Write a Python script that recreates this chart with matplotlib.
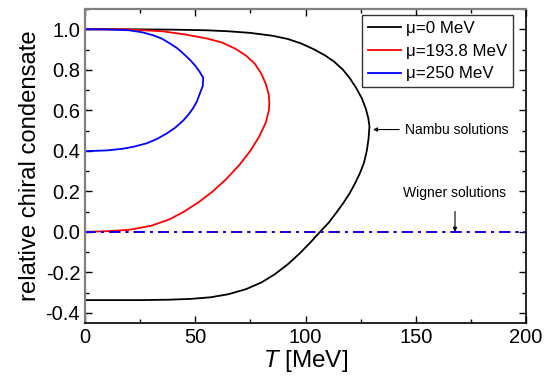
import matplotlib.pyplot as plt
from matplotlib.ticker import MultipleLocator

plt.rcParams['font.family'] = ['Liberation Sans', 'DejaVu Sans']
plt.rcParams['mathtext.fontset'] = 'custom'
plt.rcParams['mathtext.it'] = 'Liberation Sans:italic'
plt.rcParams['mathtext.rm'] = 'Liberation Sans'

# Nambu solutions, traced from the upper branch at T=0 round the turning point back to T=0
T_mu0 = [0, 20, 40, 55, 65, 75, 85, 92, 98, 104, 109, 113, 117, 120, 123, 125.5, 127.3, 128.5, 129,
         128.6, 127.8, 126.5, 124.7, 122.5, 120, 117, 114, 110.5, 106.6, 102, 97.5, 92, 86, 80, 73,
         65, 57, 48, 38, 25, 10, 0]
y_mu0 = [1.0, 1.0, 0.998, 0.995, 0.99, 0.982, 0.968, 0.952, 0.93, 0.9, 0.87, 0.84, 0.8, 0.76, 0.71,
         0.66, 0.61, 0.56, 0.52,
         0.46, 0.4, 0.34, 0.29, 0.24, 0.19, 0.14, 0.095, 0.045, 0.0, -0.055, -0.105, -0.16, -0.21,
         -0.25, -0.283, -0.308, -0.323, -0.331, -0.335, -0.337, -0.337, -0.337]

T_mu1938 = [0, 20, 35, 45, 55, 62, 68, 73, 77, 80, 82, 83.3, 83.6,
            83.4, 82, 79, 75, 70, 64, 58, 52, 45, 38, 30, 20, 10, 0]
y_mu1938 = [1.0, 0.999, 0.99, 0.975, 0.955, 0.935, 0.905, 0.87, 0.83, 0.78, 0.73, 0.68, 0.64,
            0.6, 0.54, 0.47, 0.4, 0.33, 0.26, 0.2, 0.15, 0.1, 0.06, 0.03, 0.01, 0.003, 0.0]

T_mu250 = [0, 10, 20, 26, 31, 35, 38.5, 42, 44.6, 47.5, 50, 52, 53.6,
           53.4, 52, 50.8, 49, 47, 44.6, 41, 37, 32.5, 28, 22, 17, 10, 0]
y_mu250 = [1.0, 0.999, 0.995, 0.985, 0.97, 0.953, 0.93, 0.905, 0.88, 0.85, 0.82, 0.79, 0.76,
           0.72, 0.68, 0.645, 0.61, 0.58, 0.55, 0.515, 0.485, 0.458, 0.437, 0.42, 0.41, 0.402, 0.398]

# Wigner solutions (zero condensate)
T_wigner = [0, 200]
y_wigner = [0, 0]

labels = ['\u03bc=0 MeV', '\u03bc=193.8 MeV', '\u03bc=250 MeV']
colors = ['black', 'red', 'blue']

fig = plt.figure(figsize=(5.46, 3.85), dpi=100)
ax = fig.add_axes([85 / 546, 1 - 323 / 385, 441 / 546, 314 / 385])

curves = [(T_mu0, y_mu0), (T_mu1938, y_mu1938), (T_mu250, y_mu250)]
for (t, y), c, lab in zip(curves, colors, labels):
    ax.plot(t, y, color=c, lw=1.3, label=lab)
for c in colors:
    ax.plot(T_wigner, y_wigner, color=c, lw=1.3, ls=(0, (6, 3, 1.5, 3)))

ax.set_xlim(0, 200)
ax.set_ylim(-0.45, 1.1)
ax.xaxis.set_major_locator(MultipleLocator(50))
ax.xaxis.set_minor_locator(MultipleLocator(25))
ax.yaxis.set_major_locator(MultipleLocator(0.2))
ax.yaxis.set_minor_locator(MultipleLocator(0.1))
ax.yaxis.set_major_formatter(plt.FuncFormatter(lambda v, p: f'{v:.1f}'))
ax.tick_params(which='both', direction='in', top=True, right=True, labelsize=14.5, width=1)
ax.tick_params(which='major', length=5)
ax.tick_params(which='minor', length=3)
for s in ['left', 'top']:
    ax.spines[s].set_color('#808080')
    ax.spines[s].set_linewidth(1.6)
for s in ['bottom', 'right']:
    ax.spines[s].set_linewidth(1.2)

ax.set_xlabel('$T$ [MeV]', fontsize=17.5, labelpad=1)
ax.set_ylabel('relative chiral condensate', fontsize=17.2, labelpad=3)

leg = ax.legend(loc='upper right', fontsize=12.2, frameon=True, fancybox=False,
                edgecolor='black', handlelength=1.9, handletextpad=0.3,
                labelspacing=0.45, borderpad=0.35, borderaxespad=0,
                bbox_to_anchor=(0.97, 0.98))
leg.get_frame().set_linewidth(1.0)

ax.annotate('Nambu solutions', xy=(130.6, 0.505), xytext=(145, 0.505),
            fontsize=10, va='center', ha='left',
            arrowprops=dict(arrowstyle='-|>', color='black', lw=0.8,
                            mutation_scale=6, shrinkA=2, shrinkB=0))
ax.annotate('Wigner solutions', xy=(167.8, 0.0), xytext=(167.8, 0.19),
            fontsize=10, va='center', ha='center',
            arrowprops=dict(arrowstyle='-|>', color='black', lw=0.8,
                            mutation_scale=6, shrinkA=6, shrinkB=0))

fig.savefig('out.png', dpi=100)
